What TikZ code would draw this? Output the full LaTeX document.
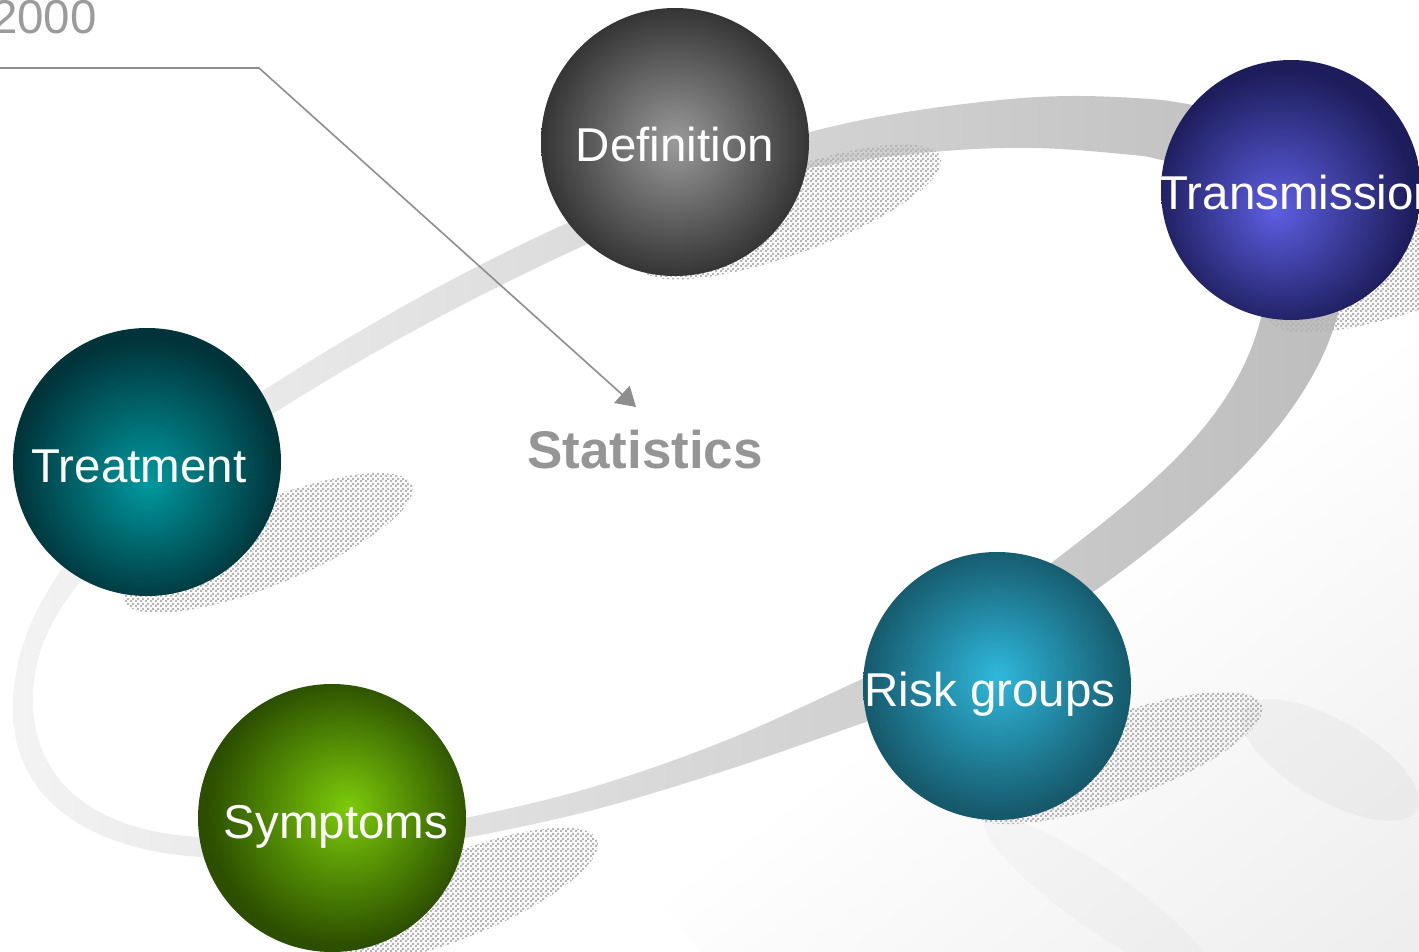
\documentclass[tikz,border=0pt]{standalone}
\usepackage{fontspec}
\setmainfont{Liberation Sans}
\usetikzlibrary{arrows.meta,patterns}
\definecolor{bandL}{HTML}{F3F3F3}
\definecolor{bandR}{HTML}{BDBDBD}
\definecolor{defIn}{HTML}{9A9A9A}\definecolor{defOut}{HTML}{353535}
\definecolor{trIn}{HTML}{5E5EE2}\definecolor{trOut}{HTML}{1D1D5C}
\definecolor{tmIn}{HTML}{00999F}\definecolor{tmOut}{HTML}{00343A}
\definecolor{rkIn}{HTML}{2FB8DC}\definecolor{rkOut}{HTML}{16596B}
\definecolor{syIn}{HTML}{7CCB0A}\definecolor{syOut}{HTML}{2B4E00}
\definecolor{statgray}{HTML}{959595}
\definecolor{linegray}{HTML}{8E8E8E}
\definecolor{yeargray}{HTML}{9B9B9B}
\pgfdeclareradialshading{shdef}{\pgfpoint{0bp}{0bp}}{color(0bp)=(defIn); color(25bp)=(defOut); color(50bp)=(defOut)}
\pgfdeclareradialshading{shtr}{\pgfpoint{-3bp}{-4bp}}{color(0bp)=(trIn); color(25bp)=(trOut); color(50bp)=(trOut)}
\pgfdeclareradialshading{shtm}{\pgfpoint{0bp}{-4bp}}{color(0bp)=(tmIn); color(25bp)=(tmOut); color(50bp)=(tmOut)}
\pgfdeclareradialshading{shrk}{\pgfpoint{0bp}{2bp}}{color(0bp)=(rkIn); color(25bp)=(rkOut); color(50bp)=(rkOut)}
\pgfdeclareradialshading{shsy}{\pgfpoint{3bp}{2bp}}{color(0bp)=(syIn); color(25bp)=(syOut); color(50bp)=(syOut)}
\pgfdeclarepatternformonly{finechecker}{\pgfpointorigin}{\pgfqpoint{5pt}{5pt}}{\pgfqpoint{5pt}{5pt}}{%
  \pgfpathrectangle{\pgfpointorigin}{\pgfqpoint{2.5pt}{2.5pt}}%
  \pgfpathrectangle{\pgfqpoint{2.5pt}{2.5pt}}{\pgfqpoint{2.5pt}{2.5pt}}%
  \pgfusepath{fill}}
\newcommand\spherefont{\fontsize{47.5}{50}\selectfont}
\newcommand\statfont{\fontsize{53}{56}\selectfont\bfseries}
\newcommand\ctext[2]{\makebox[0pt]{\hspace*{#1}#2}}
\tikzset{
  sphere/.style={circle, shade, minimum size=268pt, inner sep=0pt, text=white,
    font=\spherefont, text height=40pt, text depth=0pt},
  shadowfill/.style={pattern=finechecker, pattern color=gray!58},
  arrowline/.style={draw=linegray, line width=1.6pt, -{Triangle[length=19pt,width=23pt]}}
}
\begin{document}
\begin{tikzpicture}[x=1pt, y=-1pt]
\useasboundingbox (0,0) rectangle (1419,952);
\clip (0,0) rectangle (1419,952);
% faint background photo texture (soft gradient towards bottom right)
\begin{scope}[transform canvas={rotate around={37:(1150,720)}}]
  \shade[top color=white, bottom color=black!10] (650,560) rectangle (1800,1300);
\end{scope}
\fill[black, opacity=0.03, rotate around={-30:(1330,760)}] (1330,760) ellipse [x radius=100pt, y radius=40pt];
\fill[black, opacity=0.02, rotate around={-35:(1100,900)}] (1100,900) ellipse [x radius=140pt, y radius=30pt];
% ring band (segments join behind the spheres)
\shade[left color=bandL, right color=bandR]
  % Treatment -> Definition
  (200,432) .. controls (330,345) and (480,255) .. (650,188)
  -- (660,212) .. controls (500,280) and (350,360) .. (215,452) -- cycle
  % Definition -> Transmission
  plot[smooth, tension=0.6] coordinates {(700,165) (810,132) (900,113) (1000,100) (1073,96) (1150,99) (1193,105) (1260,118)}
  -- plot[smooth, tension=0.6] coordinates {(1250,176) (1167,161) (1133,155) (1033,148) (933,152) (810,168) (720,192)} -- cycle
  % Transmission -> Risk groups
  (1345,260) .. controls (1345,400) and (1200,520) .. (1050,622)
  -- (1010,595) .. controls (1130,500) and (1260,420) .. (1268,270) -- cycle
  % Risk groups -> Symptoms
  plot[smooth, tension=0.6] coordinates {(930,648) (860,680) (727,740) (593,787) (470,817) (400,828)}
  -- plot[smooth, tension=0.6] coordinates {(390,848) (470,837) (593,810) (727,770) (863,723) (950,693)} -- cycle
  % Symptoms -> left loop -> Treatment
  (300,860) -- (200,857) .. controls (90,850) and (13,800) .. (13,710)
  .. controls (13,650) and (35,605) .. (75,550) -- (90,570)
  .. controls (55,610) and (33,650) .. (33,700)
  .. controls (33,785) and (100,832) .. (200,837) -- (300,840) -- cycle;
% shadows
\fill[shadowfill, rotate around={20:(790,212)}] (790,212) ellipse [x radius=160pt, y radius=42pt];
\fill[shadowfill, rotate around={20:(1420,265)}] (1420,265) ellipse [x radius=160pt, y radius=42pt];
\fill[shadowfill, rotate around={22:(268,543)}] (268,543) ellipse [x radius=155pt, y radius=42pt];
\fill[shadowfill, rotate around={20:(1116,758)}] (1116,758) ellipse [x radius=155pt, y radius=42pt];
\fill[shadowfill, rotate around={22:(458,896)}] (458,896) ellipse [x radius=150pt, y radius=42pt];
% spheres
\node[sphere, shading=shdef] (def) at (675,142) {\ctext{0pt}{Definition}};
\node[sphere, shading=shtr, minimum size=260pt] (trans) at (1291,190) {\ctext{18pt}{Transmission}};
\node[sphere, shading=shtm] (treat) at (147,462) {\ctext{-16pt}{Treatment}};
\node[sphere, shading=shrk] (risk) at (997,686) {\ctext{-14pt}{Risk groups}};
\node[sphere, shading=shsy] (symp) at (332,818) {\ctext{8pt}{Symptoms}};
% texts
\node[font=\statfont, text=statgray, anchor=base, inner sep=0pt] (stat) at (645,468) {Statistics};
\node[font=\spherefont, text=yeargray, anchor=base east, inner sep=0pt] (year) at (97,34) {2000};
% arrow
\coordinate (a0) at (-5,68);
\coordinate (a1) at (259,68);
\coordinate (tip) at (636,407);
\draw[arrowline] (a0) -- (a1) -- (tip);
\end{tikzpicture}
\end{document}
